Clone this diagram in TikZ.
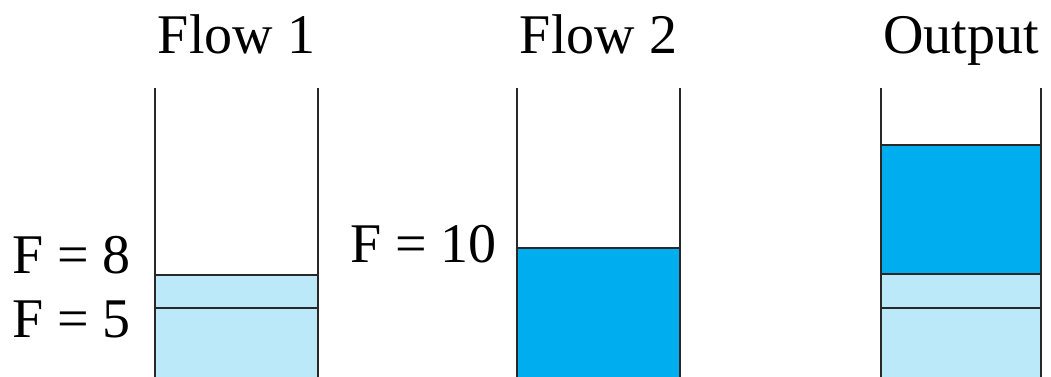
\documentclass[tikz,border=0pt]{standalone}
\usepackage{fontspec}
\setmainfont{Liberation Serif}
\definecolor{lightfill}{RGB}{187,233,250}
\definecolor{darkfill}{RGB}{0,174,239}
\definecolor{wall}{RGB}{40,40,40}
\begin{document}
\begin{tikzpicture}[x=1pt,y=-1pt,
  lbl/.style={font=\fontsize{56}{67}\selectfont, inner sep=0pt, text=black},
  wallline/.style={draw=wall, line width=2.6pt},
  sep/.style={draw=wall, line width=2.6pt}]
\useasboundingbox (0,0) rectangle (1051,376);
% container 1
\fill[lightfill] (155,275) rectangle (318,380);
\draw[sep] (155,275) -- (318,275);
\draw[sep] (155,308) -- (318,308);
\draw[wallline] (155,88) -- (155,380);
\draw[wallline] (318,88) -- (318,380);
% container 2
\fill[darkfill] (517,248) rectangle (680,380);
\draw[sep] (517,248) -- (680,248);
\draw[wallline] (517,88) -- (517,380);
\draw[wallline] (680,88) -- (680,380);
% container 3
\fill[darkfill] (881,145) rectangle (1041,274);
\fill[lightfill] (881,274) rectangle (1041,380);
\draw[sep] (881,145) -- (1041,145);
\draw[sep] (881,274) -- (1041,274);
\draw[sep] (881,308) -- (1041,308);
\draw[wallline] (881,88) -- (881,380);
\draw[wallline] (1041,88) -- (1041,380);
% labels
\node[lbl, anchor=base] (t1) at (236.5,53) {Flow 1};
\node[lbl, anchor=base] (t2) at (598.5,53) {Flow 2};
\node[lbl, anchor=base] (t3) at (961,53) {Output};
\node[lbl, anchor=base east] (f8) at (131,273) {F = 8};
\node[lbl, anchor=base east] (f5) at (131,337) {F = 5};
\node[lbl, anchor=base east] (f10) at (497,262) {F = 10};
\end{tikzpicture}
\end{document}
